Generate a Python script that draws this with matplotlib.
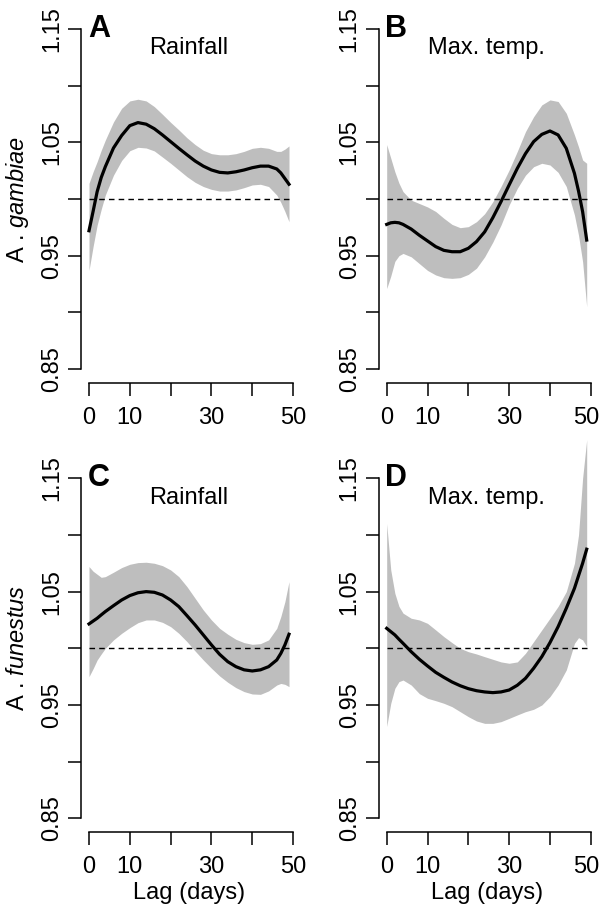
import numpy as np
import matplotlib
matplotlib.use("Agg")
import matplotlib.pyplot as plt
import matplotlib.transforms as mtransforms

plt.rcParams['font.family'] = ['Liberation Sans', 'DejaVu Sans']
plt.rcParams['mathtext.fontset'] = 'custom'
plt.rcParams['mathtext.rm'] = 'Liberation Sans'
plt.rcParams['mathtext.it'] = 'Liberation Sans:italic'

# data -----------------------------------------------------------------
lag = [0, 1, 2, 3, 4, 6, 8, 10, 12, 14, 16, 18, 20, 22, 24, 26, 28, 30,
       32, 34, 36, 38, 40, 42, 44, 46, 47, 48, 49]

fit_a = [0.972, 0.989, 1.0065, 1.019, 1.0285, 1.045, 1.056, 1.0647, 1.0674, 1.066,
         1.062, 1.0565, 1.0506, 1.0447, 1.039, 1.0335, 1.029, 1.0256, 1.0235, 1.023,
         1.024, 1.0256, 1.0276, 1.029, 1.029, 1.0265, 1.023, 1.018, 1.013]
upper_a = [1.0138, 1.024, 1.033, 1.043, 1.052, 1.068, 1.080, 1.0865, 1.088, 1.0865,
           1.0815, 1.0747, 1.0676, 1.061, 1.054, 1.048, 1.043, 1.040, 1.039, 1.039,
           1.040, 1.042, 1.0447, 1.0456, 1.0447, 1.042, 1.042, 1.044, 1.0468]
lower_a = [0.937, 0.958, 0.977, 0.991, 1.0035, 1.021, 1.034, 1.0426, 1.0456, 1.045,
           1.0424, 1.037, 1.0315, 1.0256, 1.0197, 1.0147, 1.011, 1.0085, 1.007, 1.007,
           1.008, 1.010, 1.0124, 1.013, 1.011, 1.0035, 0.997, 0.989, 0.980]

fit_b = [0.9776, 0.979, 0.9794, 0.979, 0.9776, 0.9735, 0.968, 0.963, 0.958, 0.9547,
         0.9535, 0.9535, 0.9565, 0.9624, 0.971, 0.9835, 0.9976, 1.0124, 1.027, 1.040,
         1.0506, 1.057, 1.060, 1.0565, 1.0447, 1.0226, 1.007, 0.9888, 0.9638]
upper_b = [1.048, 1.036, 1.024, 1.014, 1.0065, 0.999, 0.996, 0.993, 0.989, 0.983,
           0.9776, 0.9747, 0.9756, 0.980, 0.987, 0.9976, 1.011, 1.0256, 1.042, 1.0594,
           1.0726, 1.083, 1.0874, 1.086, 1.0756, 1.0565, 1.046, 1.0344, 1.0315]
lower_b = [0.921, 0.932, 0.945, 0.950, 0.952, 0.949, 0.943, 0.937, 0.933, 0.9306,
           0.930, 0.9306, 0.9335, 0.939, 0.949, 0.962, 0.977, 0.9947, 1.0094, 1.021,
           1.0285, 1.0315, 1.030, 1.0235, 1.011, 0.9859, 0.968, 0.9447, 0.905]

fit_c = [1.0215, 1.024, 1.0265, 1.0295, 1.0324, 1.0376, 1.0426, 1.0465, 1.049, 1.050,
         1.0494, 1.047, 1.0426, 1.0368, 1.0288, 1.0206, 1.0118, 1.003, 0.9947, 0.9882,
         0.9838, 0.981, 0.980, 0.981, 0.9838, 0.9897, 0.9955, 1.003, 1.0124]
upper_c = [1.0721, 1.068, 1.0653, 1.0626, 1.0632, 1.0671, 1.0712, 1.0741, 1.0756, 1.0759,
           1.075, 1.0729, 1.0691, 1.0632, 1.0544, 1.0441, 1.0338, 1.025, 1.0176, 1.0124,
           1.0079, 1.005, 1.0035, 1.0041, 1.0074, 1.0176, 1.028, 1.0412, 1.0588]
lower_c = [0.975, 0.982, 0.9897, 0.995, 1.000, 1.0074, 1.0132, 1.0182, 1.0226, 1.025,
           1.025, 1.0229, 1.0191, 1.0132, 1.0059, 0.9976, 0.9897, 0.9824, 0.9756, 0.970,
           0.9653, 0.9618, 0.9597, 0.9594, 0.9624, 0.9676, 0.969, 0.9682, 0.9662]

fit_d = [1.0176, 1.0147, 1.0118, 1.008, 1.0044, 0.997, 0.9903, 0.9844, 0.9788, 0.9744,
         0.9703, 0.967, 0.9644, 0.9626, 0.9615, 0.9609, 0.9615, 0.9632, 0.9674, 0.9735,
         0.9824, 0.9926, 1.005, 1.0191, 1.0353, 1.0529, 1.064, 1.075, 1.0874]
upper_d = [1.110, 1.069, 1.0485, 1.037, 1.031, 1.0265, 1.025, 1.022, 1.0162, 1.0103,
           1.005, 1.000, 0.997, 0.995, 0.9926, 0.9903, 0.988, 0.9868, 0.988, 0.9956,
           1.0059, 1.0162, 1.0265, 1.037, 1.050, 1.075, 1.10, 1.150, 1.184]
lower_d = [0.931, 0.9515, 0.9647, 0.9706, 0.972, 0.9676, 0.960, 0.9559, 0.9538, 0.9515,
           0.9485, 0.9441, 0.9397, 0.9359, 0.9338, 0.9338, 0.9353, 0.9382, 0.9412, 0.9441,
           0.9462, 0.95, 0.9574, 0.9676, 0.9809, 1.0044, 1.0094, 1.0074, 1.0015]

letters = ["A", "B", "C", "D"]
titles = ["Rainfall", "Max. temp.", "Rainfall", "Max. temp."]
species = [r"A . $\mathit{gambiae}$", r"A . $\mathit{funestus}$"]

xticks = [0, 10, 20, 30, 40, 50]
xticklabels = ["0", "10", "", "30", "", "50"]
yticks = [0.85, 0.90, 0.95, 1.00, 1.05, 1.10, 1.15]
yticklabels = ["0.85", "", "0.95", "", "1.05", "", "1.15"]

fits = [fit_a, fit_b, fit_c, fit_d]
uppers = [upper_a, upper_b, upper_c, upper_d]
lowers = [lower_a, lower_b, lower_c, lower_d]

# layout ----------------------------------------------------------------
W, H = 600, 909
fig = plt.figure(figsize=(6, 9.09), dpi=100)
lefts = [81, 378.7, 81, 378.7]
bottoms = [383, 383, 832.3, 832.3]
aw, ah = 216, 368
fs = 17

for i in range(4):
    ax = fig.add_axes([lefts[i] / W, 1 - bottoms[i] / H, aw / W, ah / H])
    ax.fill_between(lag, lowers[i], uppers[i], color="#BEBEBE", lw=0, clip_on=False)
    ax.plot([lag[0], lag[-1]], [1, 1], color="black", lw=1, ls="--", dashes=(4, 3))
    ax.plot(lag, fits[i], color="black", lw=2.3)

    ax.set_xlim(-1.96, 50.96)
    ax.set_ylim(0.8377, 1.1623)
    for s in ["top", "right"]:
        ax.spines[s].set_visible(False)
    ax.spines["left"].set_bounds(0.85, 1.15)
    ax.spines["bottom"].set_bounds(0, 50)
    ax.spines["left"].set_linewidth(1.1)
    ax.spines["bottom"].set_linewidth(1.1)

    ax.set_xticks(xticks)
    ax.set_xticklabels(xticklabels)
    ax.set_yticks(yticks)
    ax.set_yticklabels(yticklabels, rotation=90, va="center")
    ax.tick_params(axis="both", length=9.5, width=1.1, labelsize=fs)
    ax.tick_params(axis="x", pad=7.5)
    ax.tick_params(axis="y", pad=3.5)

    # right-hand panels: keep the "50" inside the figure edge
    if i % 2 == 1:
        lab = ax.get_xticklabels()[-1]
        lab.set_transform(lab.get_transform() +
                          mtransforms.ScaledTranslation(-5 / 100, 0, fig.dpi_scale_trans))

    ax.text(-0.3, 1.15, letters[i], fontsize=22, fontweight="bold",
            ha="left", va="center")
    ax.text(24.5, 1.133, titles[i], fontsize=fs, ha="center", va="center")

    if i % 2 == 0:
        yc = 1 - (bottoms[i] - ah / 2) / H
        fig.text(18 / W, yc, species[i // 2], rotation=90, fontsize=fs,
                 ha="center", va="center")
    if i >= 2:
        fig.text((lefts[i] + aw / 2) / W, 1 - 893 / H, "Lag (days)",
                 fontsize=fs, ha="center", va="center")

fig.savefig("out.png", dpi=100)
